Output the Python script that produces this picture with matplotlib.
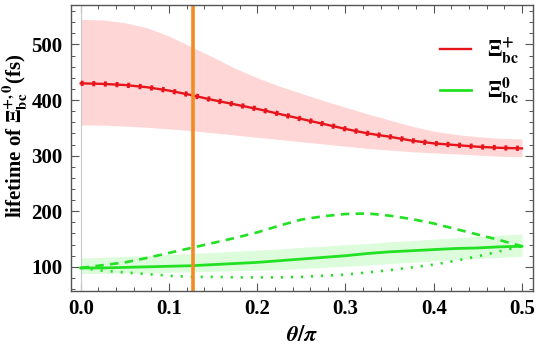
import matplotlib
matplotlib.use("Agg")
import matplotlib.pyplot as plt
from matplotlib.ticker import MultipleLocator

# === data ===
theta = [0.0, 0.025, 0.05, 0.075, 0.10, 0.125, 0.15, 0.175, 0.20, 0.225, 0.25,
         0.275, 0.30, 0.325, 0.35, 0.375, 0.40, 0.425, 0.45, 0.475, 0.50]

xi_plus = [430, 429, 427, 423, 417, 409, 400, 392, 384, 375, 366,
           357, 348, 340, 334, 327, 322, 319, 316, 314, 313]
xi_plus_hi = [545, 544, 539, 530, 515, 496, 477, 457, 440, 425, 412,
              399, 387, 375, 364, 353, 344, 338, 334, 331, 330]
xi_plus_lo = [355, 355, 353, 351, 348, 345, 341, 337, 333, 329, 325,
              321, 317, 313, 310, 307, 305, 303, 301, 299, 298]

xi_zero = [98, 98, 99, 100, 101, 102, 104, 106, 108, 111, 114,
           117, 120, 124, 127, 129, 131, 133, 134, 136, 137]
xi_zero_hi = [116, 117, 119, 120, 122, 124, 126, 128, 130, 132, 135,
              137, 140, 142, 145, 147, 150, 152, 155, 157, 159]
xi_zero_lo = [88, 88, 89, 89, 90, 91, 92, 93, 94, 95, 97,
              99, 101, 103, 106, 108, 111, 113, 115, 117, 119]
xi_zero_dash = [98, 103, 108, 116, 125, 134, 143, 152, 162, 174, 185,
                191, 195, 196, 192, 186, 178, 168, 158, 148, 137]
xi_zero_dot = [98, 93, 90, 87, 84, 82, 82, 81, 81, 81, 82,
               84, 86, 90, 94, 99, 104, 111, 119, 128, 137]

theta_mark = 0.1275

RED = "#e8141c"
GREEN = "#22e022"

plt.rcParams["font.family"] = "Liberation Serif"
plt.rcParams["font.weight"] = "bold"
plt.rcParams["mathtext.fontset"] = "stix"

fig = plt.figure(figsize=(5.4, 3.52), dpi=100)
ax = fig.add_axes([0.1315, 0.174, 0.856, 0.812])

# bands
ax.fill_between(theta, xi_plus_lo, xi_plus_hi, color="#ffd6d6", lw=0)
ax.fill_between(theta, xi_zero_lo, xi_zero_hi, color="#dcfcdc", lw=0)

# axis line at theta = 0
ax.axvline(0, color="#c8c8c8", lw=0.8)

# red curve (the overlapping curves give it little blocks)
ax.plot(theta, xi_plus, color=RED, lw=1.7, label=r"$\mathbf{\Xi_{bc}^{+}}$")
ax.plot(theta, xi_plus, color=RED, lw=3.8, ls=(0, (0.55, 1.65)), solid_capstyle="butt")

# green curves
ax.plot(theta, xi_zero, color=GREEN, lw=2.0, label=r"$\mathbf{\Xi_{bc}^{0}}$")
ax.plot(theta, xi_zero_dash, color=GREEN, lw=1.9, ls=(0, (3.2, 2.4)))
ax.plot(theta, xi_zero_dot, color=GREEN, lw=1.9, ls=(0, (0.8, 3.0)))

# orange marker line
ax.axvline(theta_mark, color="#f28c22", lw=2.6)

ax.set_xlim(-0.011, 0.5128)
ax.set_ylim(57, 571)

ax.xaxis.set_minor_locator(MultipleLocator(0.02))
ax.yaxis.set_minor_locator(MultipleLocator(20))
ax.set_xticks([0.0, 0.1, 0.2, 0.3, 0.4, 0.5])
ax.set_xticklabels(["0.0", "0.1", "0.2", "0.3", "0.4", "0.5"])
ax.set_yticks([100, 200, 300, 400, 500])

ax.tick_params(which="both", direction="in", top=True, right=True,
               color="#555555", labelsize=15, pad=6)
ax.tick_params(which="major", length=6, width=0.8)
ax.tick_params(which="minor", length=3, width=0.7)
for lab in ax.get_xticklabels() + ax.get_yticklabels():
    lab.set_fontweight("bold")
for s in ax.spines.values():
    s.set_color("#555555")
    s.set_linewidth(1.0)

ax.set_xlabel(r"$\theta/\pi$", fontsize=16, labelpad=5)
# y label placed by hand so it sits between the edge and the tick labels
fig.text(0.028, 0.615, r"lifetime of $\mathbf{\Xi_{bc}^{+,0}}$(fs)", fontsize=15,
         fontweight="bold", rotation=90, ha="center", va="center")

leg = ax.legend(loc="upper right", bbox_to_anchor=(1.012, 0.96), frameon=False,
                fontsize=16, handlelength=1.4, labelspacing=0.4, handletextpad=0.7)

fig.savefig("out.png", dpi=100)
